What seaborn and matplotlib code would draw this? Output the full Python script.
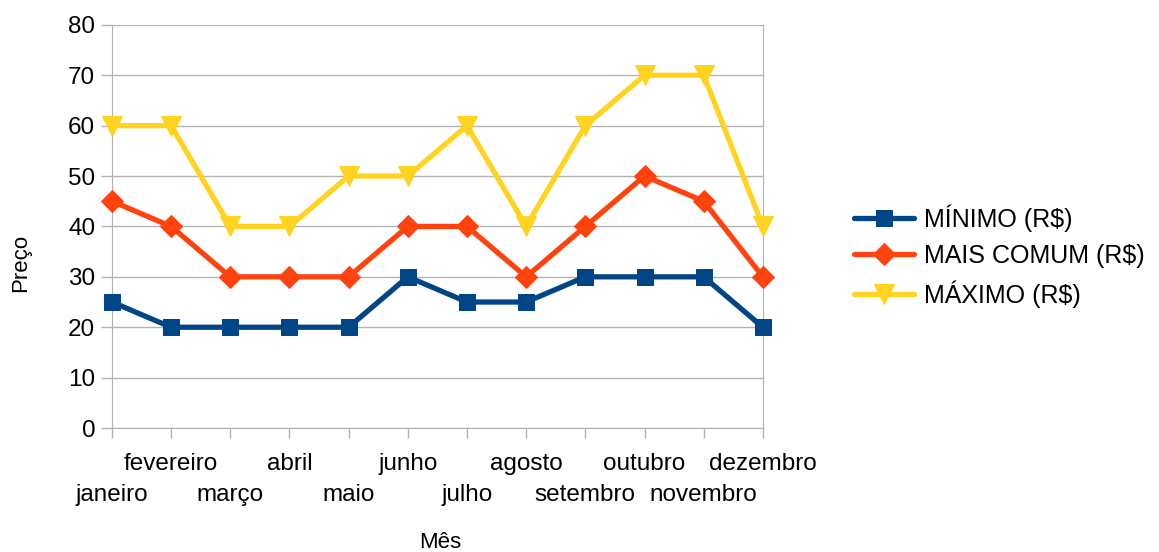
import pandas as pd
import seaborn as sns
import matplotlib.pyplot as plt

meses = ['janeiro', 'fevereiro', 'março', 'abril', 'maio', 'junho',
         'julho', 'agosto', 'setembro', 'outubro', 'novembro', 'dezembro']
minimo = [25, 20, 20, 20, 20, 30, 25, 25, 30, 30, 30, 20]
mais_comum = [45, 40, 30, 30, 30, 40, 40, 30, 40, 50, 45, 30]
maximo = [60, 60, 40, 40, 50, 50, 60, 40, 60, 70, 70, 40]

series = ['MÍNIMO (R$)', 'MAIS COMUM (R$)', 'MÁXIMO (R$)']
cores = ['#004586', '#ff420e', '#ffd320']
marcadores = ['s', 'D', 'v']

df = pd.DataFrame({'pos': list(range(len(meses))) * 3,
                   'valor': minimo + mais_comum + maximo,
                   'serie': [s for s in series for _ in meses]})

sns.set_style('white')
plt.rcParams['font.family'] = ['Liberation Sans', 'DejaVu Sans']
plt.rcParams['text.color'] = 'black'
plt.rcParams['xtick.labelcolor'] = 'black'
plt.rcParams['ytick.labelcolor'] = 'black'
plt.rcParams['axes.labelcolor'] = 'black'

fig = plt.figure(figsize=(11.59, 5.52), dpi=100)
ax = fig.add_axes([0.0966, 0.2246, 0.5616, 0.7304])

for s, c, m in zip(series, cores, marcadores):
    ms = 12 if m == 's' else (11 if m == 'D' else 14)
    sns.lineplot(data=df[df['serie'] == s], x='pos', y='valor', color=c,
                 marker=m, markersize=ms, markeredgecolor=c, linewidth=3.8,
                 label=s, ax=ax, clip_on=False, zorder=3)

ax.set_xlim(0, len(meses) - 1)
ax.set_ylim(0, 80)
ax.set_yticks(range(0, 81, 10))
ax.yaxis.grid(True, color='#b3b3b3', linewidth=1)

# rotulos alternados: pares embaixo (major), impares em cima (minor)
pares = list(range(0, len(meses), 2))
impares = list(range(1, len(meses), 2))
ax.set_xticks(pares)
ax.set_xticklabels([meses[i] for i in pares])
ax.set_xticks(impares, minor=True)
ax.set_xticklabels([meses[i] for i in impares], minor=True)
ax.tick_params(axis='x', which='major', bottom=True, length=7.2, width=1,
               color='#b3b3b3', labelcolor='black', labelsize=17.5, pad=33)
ax.tick_params(axis='x', which='minor', bottom=True, length=7.2, width=1,
               color='#b3b3b3', labelcolor='black', labelsize=17.5, pad=11)
ax.tick_params(axis='y', left=True, length=8, width=1, color='#b3b3b3',
               labelcolor='black', labelsize=17.5, pad=4)
for side in ['left', 'right', 'bottom']:
    ax.spines[side].set_color('#b3b3b3')
ax.spines['top'].set_visible(False)

ax.set_xlabel('Mês', fontsize=16)
ax.xaxis.set_label_coords(0.504, -0.258)
ax.set_ylabel('Preço', fontsize=16)
ax.yaxis.set_label_coords(-0.124, 0.41)

ax.get_legend().remove()
h, l = ax.get_legend_handles_labels()
fig.legend(h, l, loc='center left', bbox_to_anchor=(0.717, 0.536), frameon=False,
           fontsize=18, handlelength=2.4, labelspacing=0.5, handletextpad=0.4)

fig.savefig('out.png', dpi=100)
